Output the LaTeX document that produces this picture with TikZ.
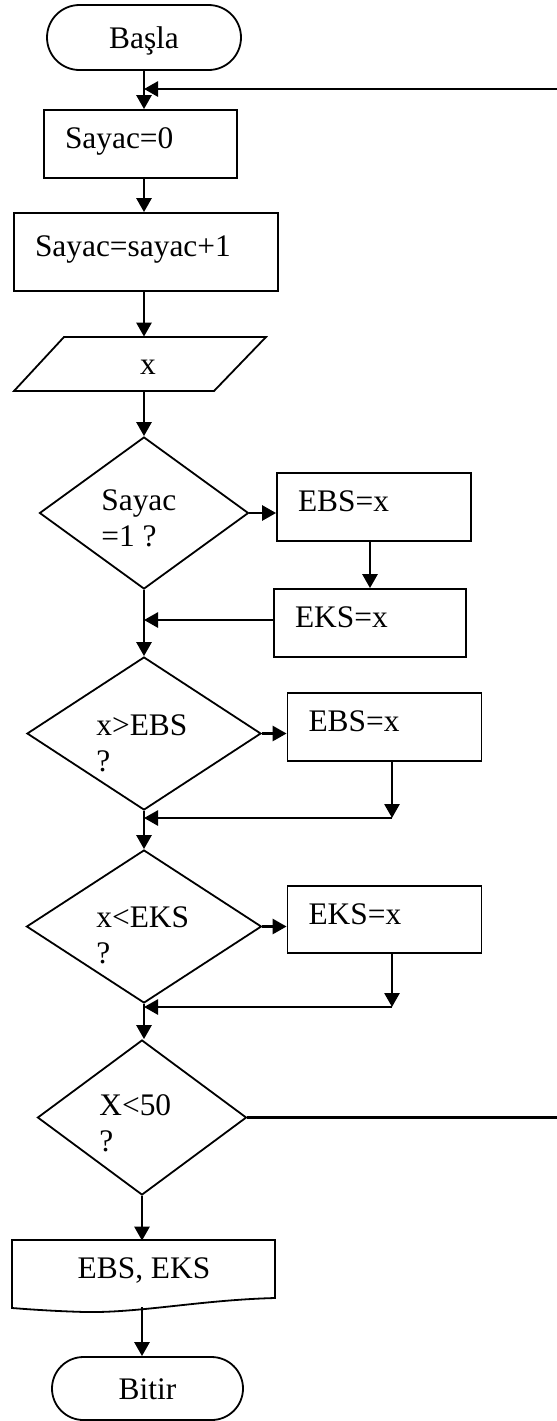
\documentclass[tikz,border=0pt]{standalone}
\usepackage{fontspec}
\setmainfont{Liberation Serif}
\usetikzlibrary{shapes.geometric,shapes.misc,arrows.meta,calc}

\begin{document}
\begin{tikzpicture}[x=0.5pt,y=-0.5pt,
  font=\fontsize{15.7}{18}\selectfont,
  outline/.style={draw, line width=0.9pt},
  terminal/.style={outline, rounded rectangle, inner sep=0pt, text height=1.05em, text depth=0pt},
  proc/.style={outline, rectangle, inner ysep=0pt, inner xsep=10.5pt, align=left,
               text height=0.7em, text depth=0.22em},
  decision/.style={outline, diamond, inner sep=0pt},
  cond/.style={anchor=north west, inner sep=0pt, align=left},
  arr/.style={line width=1.35pt, -{Triangle[length=7pt,width=7.5pt]}},
  link/.style={line width=1.35pt},
]
\useasboundingbox (0,0) rectangle (557,1421);

% main vertical spine
\coordinate (spine) at (144,0);

% start / end
\node[terminal, minimum width=97pt, minimum height=32.5pt] (basla) at (144,37.5) {Başla};
\node[terminal, minimum width=95.5pt, minimum height=31.5pt] (bitir) at (147.5,1388.5) {Bitir};

% processes
\node[proc, text width=75.5pt, minimum height=34pt] (sayac0) at (140.5,144) {Sayac=0};
\node[proc, text width=111pt, minimum height=39pt] (inc) at (146,252) {Sayac=sayac+1};
\node[proc, text width=76pt, minimum height=34pt] (ebs1) at (374,507) {EBS=x};
\node[proc, text width=75pt, minimum height=34pt] (eks1) at (370,623) {EKS=x};
\node[proc, text width=76pt, minimum height=34pt] (ebs2) at (384.5,727) {EBS=x};
\node[proc, text width=76pt, minimum height=33.5pt] (eks2) at (384.5,919.5) {EKS=x};

% input (parallelogram)
\node[minimum width=60pt, minimum height=27pt, inner sep=0pt, text height=1em, text depth=0pt] (inp) at (148,364) {x};
\draw[outline] (64,337) -- (266,337) -- (214,391) -- (14,391) -- cycle;

% decisions
\node[decision, minimum width=104.5pt, minimum height=76pt] (d1) at (144,513) {};
\node[decision, minimum width=117pt, minimum height=76.5pt] (d2) at (144,733.5) {};
\node[decision, minimum width=117.5pt, minimum height=76.5pt] (d3) at (144,926.5) {};
\node[decision, minimum width=104.5pt, minimum height=77.5pt] (d4) at (142,1117.5) {};
\node[cond] (d1t) at (101,489) {Sayac\\=1 ?};
\node[cond] (d2t) at (96,714) {x>EBS\\?};
\node[cond] (d3t) at (96,906) {x<EKS\\?};
\node[cond] (d4t) at (99,1094) {X<50\\?};

% output document
\node[minimum width=131.5pt, minimum height=30pt, inner sep=0pt] (doc) at (144,1271) {EBS, EKS};
\draw[outline] (12,1240) -- (275,1240) -- (275,1298)
  .. controls (200,1300) and (140,1313) .. (85,1312)
  .. controls (50,1311) and (25,1309) .. (12,1308) -- cycle;
\coordinate (docb) at (142,1307);

% junction points
\coordinate (rtop) at (557,89);
\coordinate (rbot) at (557,1117.5);
\coordinate (j1) at (144,620);
\coordinate (c2) at (392,818);
\coordinate (m2) at (144,818);
\coordinate (c3) at (392,1007);
\coordinate (m3) at (144,1007);

% main flow
\draw[arr] (basla.south -| spine) -- (sayac0.north -| spine);
\draw[arr] (rtop) -- (rtop -| spine);
\draw[arr] (sayac0.south -| spine) -- (inc.north -| spine);
\draw[arr] (inc.south -| spine) -- (inp.north -| spine);
\draw[arr] (inp.south -| spine) -- (d1.north);
\draw[arr] (d1.south) -- (d2.north);
\draw[arr] (d2.south) -- (d3.north);
\draw[arr] (d3.south) -- (d3.south |- d4.north);
\draw[arr] (d4.south) -- (d4.south |- doc.north);
\draw[arr] (docb) -- (docb |- bitir.north);

% first decision branch
\draw[arr] (d1.east) -- (d1.east -| ebs1.west);
\draw[arr] (eks1.north |- ebs1.south) -- (eks1.north);
\draw[arr] (eks1.west |- j1) -- (j1);

% second decision branch
\draw[arr] (d2.east) -- (d2.east -| ebs2.west);
\draw[arr] (c2 |- ebs2.south) -- (c2);
\draw[arr] (c2) -- (m2);

% third decision branch
\draw[arr] (d3.east) -- (d3.east -| eks2.west);
\draw[arr] (c3 |- eks2.south) -- (c3);
\draw[arr] (c3) -- (m3);

% loop back
\draw[link] (d4.east) -- (rbot);
\end{tikzpicture}
\end{document}
